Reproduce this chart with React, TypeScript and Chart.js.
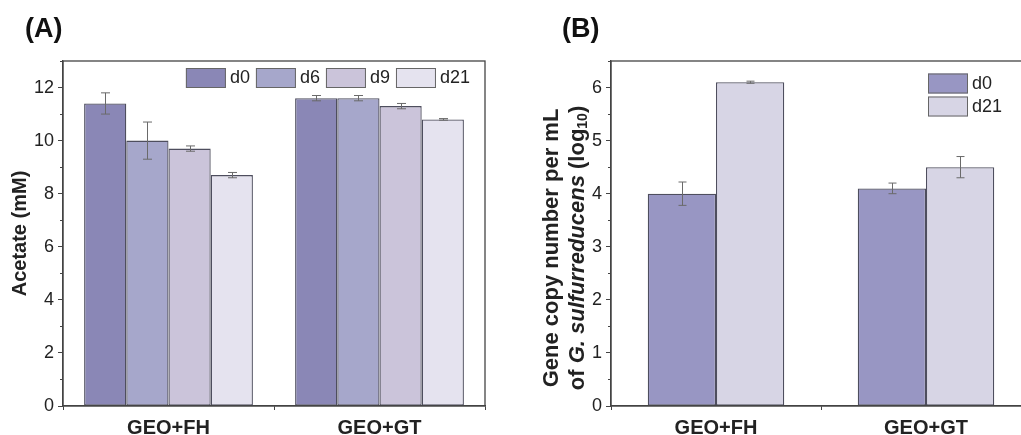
import React, { useEffect, useRef } from "react";
import { Chart, registerables } from "chart.js";

Chart.register(...registerables);

const FONT = "'Liberation Sans', Arial, sans-serif";

// ---- Data ----
const categories = ["GEO+FH", "GEO+GT"];

// Panel A: Acetate (mM)
const acetateLabels = ["d0", "d6", "d9", "d21"];
const acetateD0 = [11.4, 11.6];
const acetateD6 = [10.0, 11.6];
const acetateD9 = [9.7, 11.3];
const acetateD21 = [8.7, 10.8];
const acetateErrD0 = [0.4, 0.1];
const acetateErrD6 = [0.7, 0.1];
const acetateErrD9 = [0.1, 0.1];
const acetateErrD21 = [0.1, 0.03];
const acetateColors = ["#8a87b6", "#a6a7cb", "#cbc4da", "#e5e3ef"];

// Panel B: gene copy number (log10)
const geneLabels = ["d0", "d21"];
const geneD0 = [4.0, 4.1];
const geneD21 = [6.1, 4.5];
const geneErrD0 = [0.22, 0.1];
const geneErrD21 = [0.02, 0.2];
const geneColors = ["#9896c3", "#d7d5e5"];

const AXIS_COLOR = "#444";
const TEXT_COLOR = "#222";
const BAR_BORDER = "#4e4e5e";

function errorBarPlugin(errs: number[][], cap: number) {
  return {
    id: "errorBars",
    afterDatasetsDraw(chart: any) {
      const ctx = chart.ctx;
      const y = chart.scales.y;
      ctx.save();
      ctx.strokeStyle = "#6a6a6a";
      ctx.lineWidth = 1;
      chart.data.datasets.forEach((ds: any, i: number) => {
        const meta = chart.getDatasetMeta(i);
        meta.data.forEach((bar: any, j: number) => {
          const v = ds.data[j];
          const e = errs[i][j];
          const x = Math.round(bar.x) + 0.5;
          const yt = y.getPixelForValue(v + e);
          const yb = y.getPixelForValue(v - e);
          ctx.beginPath();
          ctx.moveTo(x, yt);
          ctx.lineTo(x, yb);
          ctx.moveTo(x - cap / 2, yt);
          ctx.lineTo(x + cap / 2, yt);
          ctx.moveTo(x - cap / 2, yb);
          ctx.lineTo(x + cap / 2, yb);
          ctx.stroke();
        });
      });
      ctx.restore();
    },
  };
}

function framePlugin(minorStep: number, majorStep: number) {
  return {
    id: "frame",
    afterDraw(chart: any) {
      const ctx = chart.ctx;
      const { left, right, top, bottom } = chart.chartArea;
      const y = chart.scales.y;
      ctx.save();
      ctx.strokeStyle = AXIS_COLOR;
      ctx.lineWidth = 1.3;
      ctx.strokeRect(left, top, right - left, bottom - top);
      // minor ticks
      ctx.lineWidth = 1;
      ctx.beginPath();
      for (let v = y.min; v <= y.max + 1e-9; v += minorStep) {
        const r = v / majorStep;
        if (Math.abs(r - Math.round(r)) < 1e-6) continue;
        const py = Math.round(y.getPixelForValue(v)) + 0.5;
        ctx.moveTo(left - 3, py);
        ctx.lineTo(left, py);
      }
      ctx.stroke();
      ctx.restore();
    },
  };
}

const legendAPlugin = {
  id: "legendA",
  afterDraw(chart: any) {
    const ctx = chart.ctx;
    const { right, top } = chart.chartArea;
    ctx.save();
    ctx.font = `18px ${FONT}`;
    const items = chart.data.datasets.map((ds: any) => ({
      label: ds.label,
      color: ds.backgroundColor,
      w: 44 + ctx.measureText(ds.label).width,
    }));
    const gap = 6;
    const total = items.reduce((s: number, it: any) => s + it.w, 0) + gap * (items.length - 1);
    let x = right - 15 - total;
    const by = top + 7;
    items.forEach((it: any) => {
      ctx.fillStyle = it.color;
      ctx.fillRect(x, by, 40, 20);
      ctx.strokeStyle = "#666";
      ctx.lineWidth = 1;
      ctx.strokeRect(x + 0.5, by + 0.5, 39, 19);
      ctx.fillStyle = TEXT_COLOR;
      ctx.textBaseline = "middle";
      ctx.textAlign = "left";
      ctx.fillText(it.label, x + 44, by + 10.5);
      x += it.w + gap;
    });
    ctx.restore();
  },
};

const legendBPlugin = {
  id: "legendB",
  afterDraw(chart: any) {
    const ctx = chart.ctx;
    const { left, top } = chart.chartArea;
    ctx.save();
    ctx.font = `18px ${FONT}`;
    chart.data.datasets.forEach((ds: any, i: number) => {
      const x = left + 317;
      const by = top + 12.5 + i * 23;
      ctx.fillStyle = ds.backgroundColor;
      ctx.fillRect(x, by, 40, 20);
      ctx.strokeStyle = "#666";
      ctx.lineWidth = 1;
      ctx.strokeRect(x + 0.5, by + 0.5, 39, 19);
      ctx.fillStyle = TEXT_COLOR;
      ctx.textBaseline = "middle";
      ctx.textAlign = "left";
      ctx.fillText(ds.label, x + 44, by + 10.5);
    });
    ctx.restore();
  },
};

const yTitleBPlugin = {
  id: "yTitleB",
  afterDraw(chart: any) {
    const ctx = chart.ctx;
    const cy = 248;
    const drawLine = (cx: number, segs: { t: string; f: string; dy?: number }[]) => {
      ctx.save();
      ctx.translate(cx, cy);
      ctx.rotate(-Math.PI / 2);
      ctx.fillStyle = TEXT_COLOR;
      ctx.textBaseline = "middle";
      ctx.textAlign = "left";
      let total = 0;
      segs.forEach((s) => {
        ctx.font = s.f;
        total += ctx.measureText(s.t).width;
      });
      let x = -total / 2;
      segs.forEach((s) => {
        ctx.font = s.f;
        ctx.fillText(s.t, x, s.dy || 0);
        x += ctx.measureText(s.t).width;
      });
      ctx.restore();
    };
    const b = `bold 22px ${FONT}`;
    const bi = `italic bold 22px ${FONT}`;
    const sub = `bold 14px ${FONT}`;
    drawLine(36.7, [{ t: "Gene copy number per mL", f: b }]);
    drawLine(63, [
      { t: "of ", f: b },
      { t: "G. sulfurreducens", f: bi },
      { t: " (log", f: b },
      { t: "10", f: sub, dy: 5 },
      { t: ")", f: b },
    ]);
  },
};

function baseOptions(opts: {
  yMax: number;
  yStep: number;
  yWidth: number;
  padRight: number;
  catPct: number;
  title?: string;
}) {
  return {
    responsive: false,
    animation: false as const,
    layout: { padding: { top: 61, right: opts.padRight, left: 0, bottom: 0 } },
    plugins: { legend: { display: false }, tooltip: { enabled: false }, title: { display: false } },
    datasets: { bar: { categoryPercentage: opts.catPct, barPercentage: 1 } },
    scales: {
      x: {
        grid: {
          display: true,
          drawOnChartArea: false,
          offset: true,
          tickLength: 4,
          color: AXIS_COLOR,
          tickColor: AXIS_COLOR,
        },
        border: { display: true, color: AXIS_COLOR, width: 1.3 },
        ticks: {
          color: TEXT_COLOR,
          font: { family: FONT, size: 20, weight: "bold" },
          padding: 6,
          maxRotation: 0,
        },
        afterFit: (scale: any) => {
          scale.height = 29;
        },
      },
      y: {
        min: 0,
        max: opts.yMax,
        grid: {
          display: true,
          drawOnChartArea: false,
          tickLength: 5,
          color: AXIS_COLOR,
          tickColor: AXIS_COLOR,
        },
        border: { display: true, color: AXIS_COLOR, width: 1.3 },
        ticks: {
          stepSize: opts.yStep,
          color: TEXT_COLOR,
          font: { family: FONT, size: 18 },
          padding: 4,
        },
        afterBuildTicks: (scale: any) => {
          scale.ticks = scale.ticks.filter((t: any) => {
            const r = t.value / opts.yStep;
            return Math.abs(r - Math.round(r)) < 1e-6;
          });
        },
        title: opts.title
          ? {
              display: true,
              text: opts.title,
              color: TEXT_COLOR,
              font: { family: FONT, size: 20, weight: "bold" },
              padding: { top: 8, bottom: 0 },
            }
          : { display: false },
        afterFit: (scale: any) => {
          scale.width = opts.yWidth;
        },
      },
    },
  };
}

function ChartA() {
  const ref = useRef<HTMLCanvasElement>(null);
  useEffect(() => {
    if (!ref.current) return;
    const vals = [acetateD0, acetateD6, acetateD9, acetateD21];
    const errs = [acetateErrD0, acetateErrD6, acetateErrD9, acetateErrD21];
    const chart = new Chart(ref.current, {
      type: "bar",
      data: {
        labels: categories,
        datasets: vals.map((d, i) => ({
          label: acetateLabels[i],
          data: d,
          backgroundColor: acetateColors[i],
          borderColor: BAR_BORDER,
          borderWidth: 1.3,
          borderSkipped: false,
        })),
      },
      options: baseOptions({
        yMax: 13,
        yStep: 2,
        yWidth: 63,
        padRight: 25,
        catPct: 0.8,
        title: "Acetate (mM)",
      }) as any,
      plugins: [errorBarPlugin(errs, 9), framePlugin(1, 2), legendAPlugin],
    });
    return () => chart.destroy();
  }, []);
  return <canvas ref={ref} width={510} height={435} style={{ position: "absolute", left: 0, top: 0 }} />;
}

function ChartB() {
  const ref = useRef<HTMLCanvasElement>(null);
  useEffect(() => {
    if (!ref.current) return;
    const vals = [geneD0, geneD21];
    const errs = [geneErrD0, geneErrD21];
    const chart = new Chart(ref.current, {
      type: "bar",
      data: {
        labels: categories,
        datasets: vals.map((d, i) => ({
          label: geneLabels[i],
          data: d,
          backgroundColor: geneColors[i],
          borderColor: BAR_BORDER,
          borderWidth: 1.3,
          borderSkipped: false,
        })),
      },
      options: baseOptions({
        yMax: 6.5,
        yStep: 1,
        yWidth: 96,
        padRight: 14,
        catPct: 0.65,
      }) as any,
      plugins: [errorBarPlugin(errs, 8), framePlugin(0.5, 1), legendBPlugin, yTitleBPlugin],
    });
    return () => chart.destroy();
  }, []);
  return <canvas ref={ref} width={530} height={435} style={{ position: "absolute", left: 515, top: 0 }} />;
}

const panelLabelStyle: React.CSSProperties = {
  position: "absolute",
  top: 15,
  fontFamily: FONT,
  fontWeight: "bold",
  fontSize: 27,
  lineHeight: 1,
  color: "#111",
};

export default function App() {
  return (
    <div
      style={{
        position: "absolute",
        left: 0,
        top: 0,
        width: 1021,
        height: 435,
        overflow: "hidden",
        background: "#fff",
      }}
    >
      <ChartA />
      <ChartB />
      <div style={{ ...panelLabelStyle, left: 25 }}>(A)</div>
      <div style={{ ...panelLabelStyle, left: 562 }}>(B)</div>
    </div>
  );
}
